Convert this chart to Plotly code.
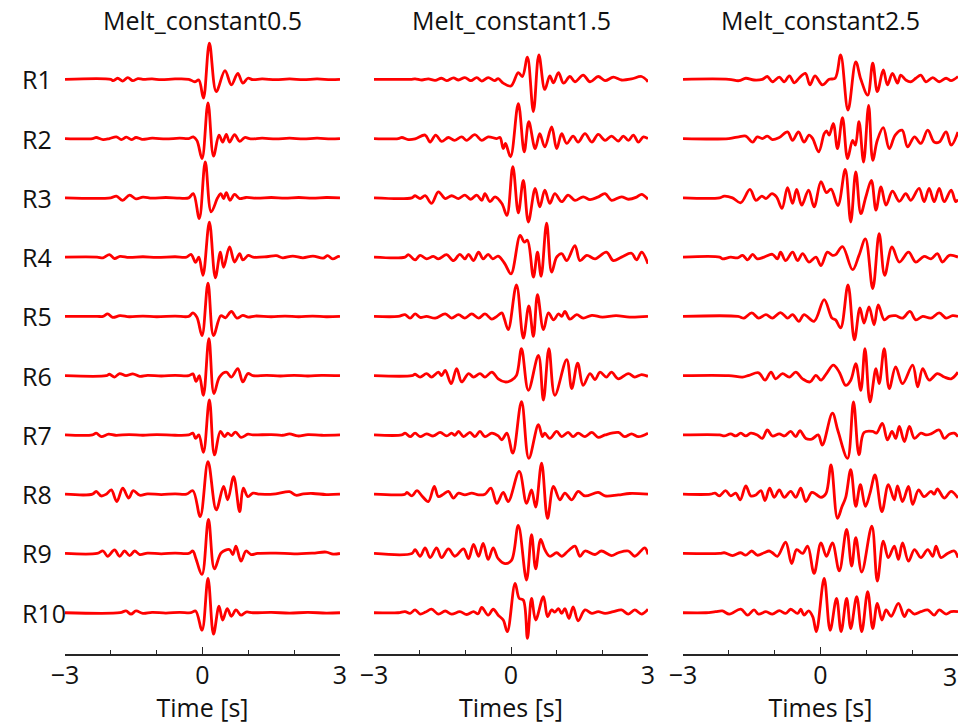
import plotly.graph_objects as go

panel_titles = ["Melt_constant0.5", "Melt_constant1.5", "Melt_constant2.5"]
xaxis_titles = ["Time [s]", "Times [s]", "Times [s]"]
receivers = ["R1", "R2", "R3", "R4", "R5", "R6", "R7", "R8", "R9", "R10"]
tick_values = [-3, 0, 3]
minor_tick_values = [-2, -1, 1, 2]

# Waveform turning points: (time [s], normalised amplitude)
mc05_r1 = [(-3,0),(-2.0,0),(-1.95,-0.04),(-1.85,0.03),(-1.74,-0.05),(-1.63,0.05),(-1.52,-0.04),(-1.41,0.02),(-1.3,0),(-1.1,0.01),(-0.9,-0.01),(-0.6,0.01),(-0.3,0),(-0.17,-0.07),(-0.08,-0.02),(0.02,-0.54),(0.15,1.03),(0.30,-0.35),(0.49,0.25),(0.63,-0.16),(0.77,0.17),(0.88,-0.11),(0.99,0.03),(1.1,-0.01),(1.3,0.01),(1.6,-0.01),(1.9,0.01),(2.2,-0.01),(2.5,0.01),(2.8,-0.01),(3,0)]
mc05_r2 = [(-3,0),(-2.4,0),(-2.32,0.03),(-2.17,-0.03),(-2.03,0.0),(-1.88,0.05),(-1.77,-0.03),(-1.66,0.04),(-1.55,-0.03),(-1.45,0.03),(-1.32,-0.02),(-1.1,0.01),(-0.8,-0.01),(-0.5,0.01),(-0.3,0),(-0.2,0.05),(-0.12,-0.06),(-0.01,-0.57),(0.12,1.02),(0.24,-0.50),(0.36,0.10),(0.44,-0.10),(0.52,0.12),(0.59,-0.10),(0.70,0.11),(0.81,-0.08),(0.92,0.03),(1.05,-0.01),(1.3,0.01),(1.6,-0.01),(1.9,0.01),(2.2,-0.01),(2.5,0.01),(2.8,-0.01),(3,0)]
mc05_r3 = [(-3,0),(-2.0,0),(-1.88,0.05),(-1.74,-0.07),(-1.59,0.08),(-1.45,-0.03),(-1.3,0.02),(-1.1,-0.01),(-0.8,0.01),(-0.5,-0.01),(-0.3,0),(-0.2,0.12),(-0.07,-0.59),(0.06,1.03),(0.19,-0.40),(0.33,0.0),(0.40,0.12),(0.46,-0.02),(0.52,0.15),(0.60,-0.07),(0.70,0.10),(0.81,-0.02),(0.95,0.01),(1.2,-0.01),(1.5,0.01),(1.8,-0.01),(2.1,0.01),(2.4,-0.01),(2.7,0.01),(3,0)]
mc05_r4 = [(-3,0),(-2.3,0),(-2.17,-0.02),(-2.03,0.07),(-1.92,-0.04),(-1.8,0.02),(-1.6,-0.01),(-1.3,0.01),(-1.0,-0.01),(-0.6,0.01),(-0.35,0),(-0.25,0.08),(-0.15,-0.15),(-0.08,0.0),(0.01,-0.52),(0.15,1.0),(0.28,-0.59),(0.39,0.14),(0.46,-0.29),(0.59,0.29),(0.70,-0.14),(0.81,0.10),(0.88,-0.08),(1.00,0.05),(1.1,0),(1.4,0.01),(1.61,0.04),(1.75,-0.02),(1.97,0.03),(2.19,-0.02),(2.41,0.03),(2.63,-0.03),(2.73,0.04),(2.84,-0.05),(2.97,0.02),(3,0)]
mc05_r5 = [(-3,0),(-2.3,0),(-2.17,0),(-2.07,0.07),(-1.96,-0.03),(-1.8,0.02),(-1.6,-0.01),(-1.3,0.01),(-1.0,-0.01),(-0.6,0.01),(-0.3,0),(-0.21,0.10),(-0.12,-0.03),(-0.01,-0.55),(0.12,0.95),(0.24,-0.55),(0.40,0.02),(0.50,-0.04),(0.63,0.14),(0.75,-0.05),(0.88,0.03),(1.0,-0.02),(1.15,0.01),(1.5,-0.01),(1.8,0.01),(2.1,-0.01),(2.4,0.01),(2.7,-0.01),(3,0)]
mc05_r6 = [(-3,0),(-2.1,0),(-2.03,0.04),(-1.92,-0.04),(-1.81,0.06),(-1.67,0.0),(-1.52,0.05),(-1.37,-0.02),(-1.2,0.01),(-0.9,-0.01),(-0.6,0.01),(-0.3,0),(-0.21,0.05),(-0.14,-0.16),(-0.07,0.0),(0.02,-0.56),(0.14,1.06),(0.25,-0.51),(0.37,-0.04),(0.52,0.10),(0.63,-0.04),(0.77,0.20),(0.88,-0.18),(0.99,0.06),(1.1,0),(1.4,0.01),(1.7,-0.01),(2.0,0.01),(2.3,-0.01),(2.6,0.01),(3,0)]
mc05_r7 = [(-3,0),(-2.4,0),(-2.32,0.05),(-2.21,-0.05),(-2.05,0.02),(-1.9,-0.01),(-1.6,0.01),(-1.3,-0.01),(-1.0,0.01),(-0.6,-0.01),(-0.3,0),(-0.21,0.05),(-0.15,-0.10),(-0.08,0.0),(0.02,-0.50),(0.15,1.0),(0.26,-0.57),(0.39,0.10),(0.48,-0.05),(0.55,0.05),(0.63,-0.02),(0.72,0.08),(0.84,-0.07),(0.99,0.02),(1.1,0),(1.5,0.01),(1.75,-0.01),(1.90,0.03),(2.08,-0.03),(2.3,0.01),(2.6,-0.01),(3,0)]
mc05_r8 = [(-3,0),(-2.4,0),(-2.32,0.08),(-2.21,-0.05),(-2.1,0.0),(-1.99,0.12),(-1.87,-0.21),(-1.74,0.17),(-1.61,-0.11),(-1.51,0.10),(-1.37,-0.03),(-1.2,0.01),(-0.9,-0.01),(-0.6,0.01),(-0.35,0),(-0.21,0.10),(-0.05,-0.64),(0.12,0.93),(0.30,-0.45),(0.46,0.22),(0.55,-0.16),(0.68,0.50),(0.81,-0.50),(0.89,0.17),(0.99,-0.07),(1.10,0.03),(1.25,0),(1.6,0.01),(1.90,0.07),(2.04,-0.03),(2.2,0.01),(2.41,0.02),(2.7,-0.01),(3,0)]
mc05_r9 = [(-3,0),(-2.3,0),(-2.17,0.07),(-2.07,-0.08),(-1.92,0.10),(-1.81,-0.08),(-1.70,0.07),(-1.59,-0.06),(-1.48,0.07),(-1.37,-0.03),(-1.2,0.01),(-0.9,-0.01),(-0.6,0.01),(-0.3,0),(-0.21,0.07),(-0.15,-0.12),(-0.01,-0.60),(0.13,0.97),(0.26,-0.44),(0.41,0.02),(0.59,0.11),(0.66,-0.03),(0.73,0.21),(0.84,-0.22),(0.95,0.07),(1.06,-0.03),(1.2,0),(1.6,0.01),(2.0,-0.01),(2.4,0.01),(2.70,0.04),(2.85,-0.02),(3,0)]
mc05_r10 = [(-3,0),(-1.8,0),(-1.67,0.05),(-1.56,-0.04),(-1.45,0.05),(-1.3,-0.02),(-1.1,0.01),(-0.8,-0.01),(-0.5,0.01),(-0.25,0),(-0.15,0.05),(-0.01,-0.50),(0.12,0.98),(0.24,-0.61),(0.36,0.19),(0.44,-0.21),(0.54,0.12),(0.63,-0.10),(0.73,0.08),(0.84,-0.07),(0.95,0.02),(1.1,0),(1.5,0.01),(1.9,-0.01),(2.3,0.01),(2.7,-0.01),(3,0)]

mc15_r1 = [(-3,0),(-2.2,0),(-2.10,0.01),(-1.95,-0.02),(-1.81,0.01),(-1.66,-0.03),(-1.52,0.03),(-1.41,-0.04),(-1.26,0.04),(-1.15,-0.02),(-1.01,0.05),(-0.88,-0.04),(-0.75,0.05),(-0.64,-0.05),(-0.50,0.05),(-0.36,-0.04),(-0.28,0.02),(-0.17,-0.11),(0.0,-0.19),(0.16,0.19),(0.25,0.08),(0.36,0.63),(0.49,-0.92),(0.61,0.70),(0.74,-0.29),(0.85,0.10),(0.93,-0.10),(1.04,0.19),(1.15,-0.11),(1.29,0.08),(1.40,-0.07),(1.58,0.12),(1.73,-0.07),(1.91,0.08),(2.06,-0.04),(2.24,0.06),(2.42,-0.02),(2.64,0.01),(2.86,0.08),(3.0,-0.07)]
mc15_r2 = [(-3,0),(-2.47,0),(-2.39,0.03),(-2.25,-0.03),(-2.10,-0.01),(-1.88,0.10),(-1.77,-0.10),(-1.65,0.10),(-1.52,-0.08),(-1.37,0.03),(-1.24,-0.05),(-1.08,0.05),(-0.97,-0.05),(-0.79,0.11),(-0.64,-0.05),(-0.50,0.05),(-0.31,0.0),(-0.24,0.03),(-0.17,-0.29),(-0.12,-0.14),(-0.01,-0.52),(0.16,1.0),(0.29,-0.38),(0.39,0.48),(0.53,-0.29),(0.63,0.14),(0.74,-0.24),(0.89,0.33),(1.00,-0.29),(1.11,0.14),(1.22,-0.14),(1.36,0.07),(1.47,-0.10),(1.62,0.14),(1.77,-0.10),(1.91,0.12),(2.06,-0.05),(2.20,0.07),(2.35,-0.07),(2.46,0.07),(2.57,-0.05),(2.68,0.10),(2.79,-0.10),(2.90,0.05),(3.0,0)]
mc15_r3 = [(-3,0),(-2.17,0),(-2.10,0.06),(-1.99,-0.02),(-1.88,0.06),(-1.74,-0.16),(-1.59,0.17),(-1.44,-0.02),(-1.30,0.06),(-1.15,-0.02),(-1.01,0.08),(-0.88,-0.04),(-0.75,0.08),(-0.64,-0.07),(-0.57,0.12),(-0.46,-0.11),(-0.35,0.03),(-0.20,-0.16),(-0.09,-0.50),(0.04,0.89),(0.16,-0.43),(0.27,0.50),(0.38,-0.69),(0.53,0.27),(0.63,-0.26),(0.74,0.22),(0.85,-0.16),(0.96,0.12),(1.11,-0.11),(1.25,0.08),(1.40,-0.07),(1.58,0.03),(1.73,-0.05),(1.90,0.02),(2.06,0.12),(2.20,-0.07),(2.42,0.03),(2.57,-0.04),(2.75,0.02),(2.86,0.10),(3.0,-0.04)]
mc15_r4 = [(-3,0),(-2.32,0),(-2.25,0.07),(-2.10,-0.08),(-1.99,0.05),(-1.85,-0.05),(-1.70,0.02),(-1.59,-0.05),(-1.41,0.07),(-1.26,-0.10),(-1.12,0.08),(-1.01,-0.05),(-0.93,0.08),(-0.82,-0.10),(-0.71,0.14),(-0.61,-0.05),(-0.50,0.08),(-0.40,-0.05),(-0.28,0.03),(-0.13,-0.20),(0.0,-0.48),(0.20,0.62),(0.29,0.43),(0.36,0.48),(0.49,-0.57),(0.58,0.14),(0.66,-0.55),(0.78,0.97),(0.89,-0.43),(1.00,0.0),(1.11,0.10),(1.22,-0.10),(1.40,0.33),(1.51,-0.10),(1.66,0.05),(1.84,-0.05),(2.09,0.14),(2.24,-0.10),(2.42,0.0),(2.64,0.11),(2.75,-0.08),(2.86,0.14),(3.0,-0.19)]
mc15_r5 = [(-3,0),(-2.47,0),(-2.32,0.05),(-2.21,-0.05),(-2.10,0.07),(-1.99,-0.03),(-1.85,0.0),(-1.66,-0.05),(-1.44,0.07),(-1.30,-0.05),(-1.15,0.05),(-1.01,-0.05),(-0.86,0.07),(-0.71,-0.05),(-0.57,0.07),(-0.42,-0.08),(-0.31,0.0),(-0.20,0.10),(-0.15,-0.05),(-0.06,-0.38),(0.12,0.90),(0.27,-0.62),(0.39,0.30),(0.49,-0.57),(0.58,0.62),(0.71,-0.38),(0.82,0.10),(0.93,-0.10),(1.04,0.07),(1.11,0.0),(1.18,0.14),(1.29,-0.08),(1.44,0.05),(1.58,-0.05),(1.77,0.03),(2.0,-0.02),(2.3,0.02),(2.6,-0.02),(3.0,0)]
mc15_r6 = [(-3,0),(-2.17,0),(-2.10,0.04),(-1.99,-0.04),(-1.85,0.06),(-1.74,-0.04),(-1.59,0.10),(-1.52,0.0),(-1.44,0.15),(-1.31,-0.23),(-1.19,0.20),(-1.08,-0.18),(-0.93,0.06),(-0.82,-0.04),(-0.68,0.06),(-0.57,-0.04),(-0.42,0.10),(-0.28,-0.09),(-0.13,-0.18),(0.01,-0.13),(0.12,0.01),(0.23,0.77),(0.38,-0.42),(0.60,0.58),(0.71,-0.70),(0.83,0.77),(0.96,-0.56),(1.22,0.46),(1.33,-0.37),(1.46,0.36),(1.58,-0.28),(1.73,0.06),(1.84,-0.11),(1.95,0.10),(2.09,-0.04),(2.20,0.10),(2.35,-0.09),(2.57,0.06),(2.71,-0.04),(2.86,0.03),(3.0,-0.02)]
mc15_r7 = [(-3,0),(-2.39,0),(-2.32,0.05),(-2.21,-0.05),(-2.10,0.05),(-1.99,-0.05),(-1.85,0.03),(-1.70,-0.03),(-1.55,0.07),(-1.41,-0.03),(-1.30,0.05),(-1.23,-0.01),(-1.15,0.10),(-1.04,-0.05),(-0.90,0.07),(-0.79,-0.05),(-0.68,0.10),(-0.57,-0.05),(-0.42,0.05),(-0.28,-0.03),(-0.20,-0.14),(-0.09,0.05),(0.04,-0.52),(0.23,0.95),(0.39,-0.67),(0.60,0.29),(0.69,-0.05),(0.74,0.05),(0.85,-0.10),(1.00,0.10),(1.11,-0.05),(1.25,0.07),(1.36,-0.05),(1.47,0.05),(1.62,-0.05),(1.77,0.07),(1.91,-0.07),(2.06,0.0),(2.35,0.07),(2.49,-0.05),(2.64,0.03),(2.79,-0.05),(3.0,0.05)]
mc15_r8 = [(-3,0),(-2.32,0),(-2.28,0.05),(-2.17,-0.05),(-2.06,0.10),(-1.95,-0.05),(-1.81,-0.21),(-1.68,0.22),(-1.59,-0.07),(-1.48,0.0),(-1.37,0.08),(-1.26,-0.11),(-1.15,0.03),(-1.01,-0.02),(-0.86,0.03),(-0.71,-0.02),(-0.57,0.0),(-0.44,0.17),(-0.31,-0.26),(-0.17,0.05),(-0.06,-0.21),(0.18,0.65),(0.34,-0.26),(0.45,0.12),(0.54,-0.37),(0.67,0.89),(0.80,-0.69),(0.93,0.22),(1.07,-0.16),(1.18,0.03),(1.33,-0.16),(1.47,0.08),(1.62,-0.05),(1.91,0.05),(2.06,-0.05),(2.35,-0.02),(2.6,0.02),(3.0,0)]
mc15_r9 = [(-3,0),(-2.17,0),(-2.10,0.11),(-1.99,-0.08),(-1.88,0.16),(-1.77,-0.12),(-1.63,0.16),(-1.52,-0.12),(-1.37,0.13),(-1.23,-0.08),(-1.04,0.13),(-0.93,-0.15),(-0.82,0.26),(-0.71,-0.08),(-0.61,0.29),(-0.50,-0.17),(-0.39,0.16),(-0.28,-0.15),(-0.13,-0.29),(0.01,-0.20),(0.16,0.80),(0.34,-0.76),(0.45,0.54),(0.54,-0.44),(0.65,0.40),(0.74,0.11),(0.85,-0.08),(1.00,0.02),(1.11,-0.08),(1.25,0.07),(1.40,0.21),(1.51,-0.08),(1.62,0.07),(1.84,-0.03),(1.98,0.07),(2.20,-0.06),(2.35,0.02),(2.57,0.07),(2.71,-0.08),(2.93,0.16),(3.0,-0.03)]
mc15_r10 = [(-3,0),(-2.47,0),(-2.32,0.03),(-2.21,-0.02),(-2.10,0.08),(-1.99,-0.04),(-1.87,0.02),(-1.74,0.10),(-1.59,-0.04),(-1.44,0.05),(-1.30,-0.04),(-1.12,0.03),(-0.97,-0.05),(-0.82,0.03),(-0.72,-0.03),(-0.64,0.15),(-0.50,-0.07),(-0.39,0.10),(-0.28,-0.07),(-0.17,-0.21),(-0.08,-0.54),(0.09,0.84),(0.18,0.41),(0.27,0.36),(0.36,-0.73),(0.45,0.41),(0.54,-0.21),(0.71,0.46),(0.80,-0.11),(0.89,0.08),(0.96,0.02),(1.04,0.12),(1.11,-0.02),(1.18,0.12),(1.27,-0.16),(1.36,0.17),(1.47,-0.23),(1.62,0.08),(1.77,-0.02),(1.91,0.03),(2.06,-0.02),(2.24,0.03),(2.42,0.08),(2.57,-0.04),(2.71,0.08),(2.86,-0.04),(3.0,0.10)]

mc25_r1 = [(-3,0),(-2.0,0),(-1.78,-0.04),(-1.63,0.03),(-1.45,-0.02),(-1.27,0.0),(-1.16,0.08),(-1.05,-0.07),(-0.90,0.06),(-0.79,-0.07),(-0.68,0.10),(-0.57,-0.10),(-0.47,0.03),(-0.33,0.17),(-0.23,-0.16),(-0.12,0.10),(0.04,-0.16),(0.19,0.0),(0.32,0.03),(0.44,0.70),(0.60,-0.88),(0.77,0.50),(0.88,0.0),(1.03,-0.45),(1.14,0.46),(1.24,-0.35),(1.37,0.27),(1.46,-0.16),(1.57,0.17),(1.68,-0.11),(1.75,0.12),(1.86,-0.02),(1.97,-0.07),(2.08,0.03),(2.19,0.12),(2.30,-0.07),(2.45,0.05),(2.59,-0.07),(2.74,0.03),(2.85,-0.04),(3.0,0.08)]
mc25_r2 = [(-3,0),(-2.0,0),(-1.78,0.05),(-1.63,0.07),(-1.48,-0.10),(-1.38,0.05),(-1.27,0.0),(-1.16,0.07),(-1.05,-0.03),(-0.90,0.03),(-0.72,0.19),(-0.61,-0.05),(-0.48,0.19),(-0.36,-0.10),(-0.25,0.10),(-0.17,0.0),(-0.04,-0.38),(0.08,0.14),(0.13,0.22),(0.19,0.10),(0.28,0.43),(0.37,-0.29),(0.48,0.60),(0.59,-0.57),(0.70,-0.05),(0.76,-0.19),(0.84,0.48),(0.94,-0.67),(1.05,0.95),(1.14,-0.62),(1.24,-0.05),(1.37,0.31),(1.50,-0.29),(1.63,0.10),(1.78,0.24),(1.90,-0.24),(2.05,0.05),(2.19,-0.14),(2.34,0.24),(2.48,-0.10),(2.59,-0.10),(2.74,0.19),(2.85,-0.19),(3.0,0.19)]
mc25_r3 = [(-3,0),(-2.2,0),(-2.10,0.05),(-1.92,0.0),(-1.74,-0.14),(-1.54,0.24),(-1.41,-0.07),(-1.28,0.05),(-1.19,-0.02),(-1.06,0.12),(-0.96,0.03),(-0.84,-0.30),(-0.72,0.29),(-0.61,-0.16),(-0.52,0.24),(-0.41,-0.21),(-0.26,0.22),(-0.14,-0.26),(0.01,0.46),(0.13,0.15),(0.23,0.25),(0.38,-0.22),(0.54,0.81),(0.66,-0.69),(0.77,0.74),(0.88,-0.45),(0.99,0.03),(1.11,0.50),(1.21,-0.35),(1.32,0.31),(1.43,-0.21),(1.57,0.19),(1.72,-0.10),(1.86,0.12),(1.97,-0.07),(2.15,0.27),(2.26,-0.11),(2.37,0.27),(2.48,-0.11),(2.59,0.27),(2.70,-0.11),(2.85,0.22),(2.95,-0.11),(3.0,-0.05)]
mc25_r4 = [(-3,0),(-2.2,0),(-2.14,-0.05),(-1.96,0.0),(-1.81,-0.02),(-1.70,0.05),(-1.59,-0.08),(-1.48,0.08),(-1.38,-0.05),(-1.23,0.0),(-1.05,0.08),(-0.94,-0.05),(-0.87,0.14),(-0.76,-0.10),(-0.61,0.14),(-0.50,-0.10),(-0.39,0.10),(-0.25,-0.14),(-0.10,0.0),(0.01,-0.24),(0.15,0.14),(0.26,0.05),(0.33,0.07),(0.48,0.30),(0.70,-0.36),(0.84,0.05),(0.98,0.52),(1.14,-0.90),(1.28,0.67),(1.40,-0.52),(1.56,0.29),(1.72,-0.14),(1.92,0.14),(2.08,-0.14),(2.26,0.02),(2.41,-0.05),(2.55,0.10),(2.66,-0.14),(2.81,0.05),(3.0,0.0)]
mc25_r5 = [(-3,0),(-1.8,0),(-1.67,-0.05),(-1.50,0.10),(-1.35,-0.05),(-1.19,0.05),(-1.05,-0.05),(-0.87,0.11),(-0.72,-0.05),(-0.61,0.05),(-0.47,-0.14),(-0.36,0.05),(-0.14,-0.14),(0.08,0.48),(0.25,-0.05),(0.33,-0.10),(0.44,-0.33),(0.60,0.90),(0.74,-0.67),(0.86,0.24),(0.95,-0.19),(1.06,0.27),(1.17,-0.24),(1.26,0.33),(1.39,-0.10),(1.50,0.0),(1.64,0.02),(1.79,-0.05),(1.95,0.14),(2.08,-0.10),(2.23,0.0),(2.41,-0.05),(2.59,0.10),(2.74,-0.05),(2.88,0.02),(3.0,0.0)]
mc25_r6 = [(-3,0),(-2.0,0),(-1.70,-0.04),(-1.56,0.01),(-1.35,0.08),(-1.21,-0.13),(-1.08,0.10),(-0.98,-0.09),(-0.83,0.06),(-0.68,-0.04),(-0.54,0.10),(-0.39,-0.09),(-0.23,-0.18),(-0.10,0.01),(0.01,-0.13),(0.13,0.06),(0.28,0.30),(0.41,0.10),(0.55,-0.28),(0.66,-0.13),(0.77,0.34),(0.88,-0.42),(0.97,0.77),(1.08,-0.75),(1.21,0.20),(1.28,-0.23),(1.39,0.77),(1.50,-0.37),(1.64,0.25),(1.79,-0.23),(2.01,0.30),(2.12,-0.32),(2.23,0.20),(2.37,-0.13),(2.55,0.06),(2.70,-0.04),(2.85,-0.09),(3.0,0.10)]
mc25_r7 = [(-3,0),(-2.2,0),(-2.10,-0.03),(-1.96,0.03),(-1.85,-0.03),(-1.74,0.05),(-1.63,-0.03),(-1.52,0.05),(-1.38,0.0),(-1.27,-0.10),(-1.16,0.14),(-1.05,-0.03),(-0.90,0.03),(-0.79,-0.03),(-0.65,0.10),(-0.54,-0.05),(-0.45,0.12),(-0.32,-0.10),(-0.19,-0.12),(-0.05,0.0),(0.04,-0.29),(0.26,0.62),(0.38,0.12),(0.59,-0.67),(0.72,0.94),(0.84,-0.57),(0.95,0.07),(1.14,0.10),(1.22,0.05),(1.35,0.33),(1.46,-0.14),(1.56,0.10),(1.64,-0.10),(1.72,0.24),(1.83,-0.19),(1.94,0.24),(2.05,-0.10),(2.19,0.05),(2.30,0.0),(2.41,0.03),(2.59,0.14),(2.70,-0.10),(2.81,0.02),(2.92,0.05),(3.0,-0.05)]
mc25_r8 = [(-3,0),(-2.4,0),(-2.30,0.03),(-2.21,-0.05),(-2.07,0.10),(-1.96,-0.05),(-1.85,0.03),(-1.75,-0.16),(-1.63,0.24),(-1.52,-0.05),(-1.41,-0.02),(-1.30,0.10),(-1.21,-0.18),(-1.11,0.17),(-1.01,-0.09),(-0.90,0.12),(-0.79,-0.09),(-0.65,0.08),(-0.54,-0.09),(-0.43,0.17),(-0.32,-0.21),(-0.19,0.05),(-0.10,0.0),(0.01,-0.09),(0.12,0.02),(0.23,0.84),(0.37,-0.69),(0.47,-0.35),(0.55,-0.09),(0.66,0.70),(0.77,-0.35),(0.87,0.27),(0.98,-0.35),(1.08,0.03),(1.19,0.55),(1.34,-0.50),(1.48,0.27),(1.61,-0.16),(1.68,0.24),(1.79,-0.21),(1.92,0.22),(2.01,-0.29),(2.14,0.12),(2.26,-0.07),(2.41,0.08),(2.48,0.0),(2.55,0.15),(2.70,-0.11),(2.85,0.08),(3.0,-0.11)]
mc25_r9 = [(-3,0),(-2.2,0),(-2.10,0.02),(-1.92,-0.06),(-1.74,0.02),(-1.63,-0.05),(-1.50,0.07),(-1.38,-0.05),(-1.23,0.02),(-1.12,0.07),(-1.05,0.02),(-0.94,-0.08),(-0.76,0.32),(-0.63,-0.29),(-0.52,0.11),(-0.39,0.0),(-0.28,0.21),(-0.14,-0.57),(0.01,0.30),(0.13,-0.08),(0.26,0.30),(0.41,-0.50),(0.57,0.69),(0.68,-0.36),(0.77,0.45),(0.90,-0.53),(1.12,0.78),(1.24,-0.79),(1.37,0.35),(1.48,-0.12),(1.61,0.21),(1.70,-0.17),(1.79,0.30),(1.92,-0.22),(2.05,0.11),(2.19,-0.12),(2.34,0.11),(2.45,-0.08),(2.52,0.21),(2.63,-0.12),(2.77,0.0),(2.92,0.07),(3.0,-0.12)]
mc25_r10 = [(-3,0),(-2.5,0),(-2.29,0.03),(-2.14,0.05),(-1.99,-0.04),(-1.74,0.10),(-1.59,-0.07),(-1.45,0.08),(-1.35,-0.04),(-1.19,0.03),(-1.05,-0.04),(-0.90,0.06),(-0.76,-0.02),(-0.65,0.10),(-0.50,-0.02),(-0.43,0.10),(-0.36,-0.07),(-0.26,0.05),(-0.17,-0.11),(-0.09,-0.54),(0.08,0.98),(0.21,-0.50),(0.35,0.41),(0.45,-0.54),(0.57,0.41),(0.66,-0.45),(0.79,0.46),(0.90,-0.54),(1.03,0.60),(1.14,-0.45),(1.24,0.27),(1.34,-0.21),(1.43,0.08),(1.54,-0.10),(1.70,0.27),(1.83,-0.11),(1.92,0.08),(2.05,-0.04),(2.19,0.03),(2.34,0.08),(2.48,-0.07),(2.59,0.08),(2.74,-0.04),(2.85,0.03),(3.0,0.03)]

panels = [
    [mc05_r1, mc05_r2, mc05_r3, mc05_r4, mc05_r5, mc05_r6, mc05_r7, mc05_r8, mc05_r9, mc05_r10],
    [mc15_r1, mc15_r2, mc15_r3, mc15_r4, mc15_r5, mc15_r6, mc15_r7, mc15_r8, mc15_r9, mc15_r10],
    [mc25_r1, mc25_r2, mc25_r3, mc25_r4, mc25_r5, mc25_r6, mc25_r7, mc25_r8, mc25_r9, mc25_r10],
]

W, H = 959, 724
PLOT_TOP, PLOT_BOTTOM = 30, 654
ROW0_PX, ROW_PX = 79.3, 59.27
AMP = 35.0 / ROW_PX  # normalised amplitude 1 -> ~35 px
y_top = -1 - (PLOT_TOP - ROW0_PX) / ROW_PX
y_bot = -1 - (PLOT_BOTTOM - ROW0_PX) / ROW_PX
domains = [[65 / W, 340 / W], [374 / W, 648 / W], [683 / W, 958 / W]]
INK = "#262626"
TXT = "#111111"
FONT = "Open Sans"
LABEL_STANDOFF = -2
TICK_LABEL_CENTER_PX = 676

fig = go.Figure()
for p, traces in enumerate(panels):
    xa = "x" if p == 0 else f"x{p+1}"
    ya = "y" if p == 0 else f"y{p+1}"
    for k, tr in enumerate(traces):
        fig.add_trace(go.Scatter(
            x=[q[0] for q in tr],
            y=[-(k + 1) + AMP * q[1] for q in tr],
            mode="lines",
            line=dict(color="#ff0000", width=2.8, shape="spline", smoothing=1.0),
            xaxis=xa, yaxis=ya, hoverinfo="skip", showlegend=False,
        ))

layout = dict(
    width=W, height=H,
    margin=dict(l=0, r=0, t=PLOT_TOP, b=H - PLOT_BOTTOM, pad=0, autoexpand=False),
    paper_bgcolor="white", plot_bgcolor="white",
    font=dict(family=FONT, color=INK),
    showlegend=False,
)
for p in range(3):
    sx = "" if p == 0 else str(p + 1)
    layout["xaxis" + sx] = dict(
        domain=domains[p], range=[-3, 3], anchor="y" + sx, automargin=False,
        showline=True, linecolor=INK, linewidth=1.5,
        showgrid=False, zeroline=False,
        ticks="inside", ticklen=7, tickwidth=1.3, tickcolor=INK,
        tickvals=tick_values, tickfont=dict(size=25, color=TXT),
        ticklabelstandoff=LABEL_STANDOFF,
        minor=dict(tickvals=minor_tick_values, ticks="inside", ticklen=4,
                   tickwidth=1.3, tickcolor=INK, showgrid=False),
        title=dict(text=xaxis_titles[p], font=dict(size=25, color=TXT), standoff=1),
        fixedrange=True,
    )
    layout["yaxis" + sx] = dict(
        domain=[0, 1], range=[y_bot, y_top], anchor="x" + sx, visible=False,
        automargin=False, fixedrange=True,
    )
fig.update_layout(**layout)

annotations = []
for p in range(3):
    annotations.append(dict(
        text=panel_titles[p], xref="paper", yref="paper",
        x=(domains[p][0] + domains[p][1]) / 2,
        y=(PLOT_BOTTOM - 20) / (PLOT_BOTTOM - PLOT_TOP),
        xanchor="center", yanchor="middle", showarrow=False,
        font=dict(size=25, color=TXT, family=FONT),
    ))
for k, name in enumerate(receivers):
    annotations.append(dict(
        text=name, xref="paper", yref="y", x=20 / W, y=-(k + 1),
        xanchor="left", yanchor="middle", showarrow=False,
        font=dict(size=25, color=TXT, family=FONT),
    ))
# the last tick label of the right panel sits at the page edge; plotly drops it, so place it as text kept inside the page
annotations.append(dict(
    text=str(tick_values[-1]), xref="x3", yref="paper", x=tick_values[-1],
    y=(PLOT_BOTTOM - TICK_LABEL_CENTER_PX) / (PLOT_BOTTOM - PLOT_TOP),
    xanchor="right", yanchor="middle", showarrow=False, xshift=1,
    font=dict(size=25, color=TXT, family=FONT),
))
fig.update_layout(annotations=annotations)

fig.write_html("out.html")
